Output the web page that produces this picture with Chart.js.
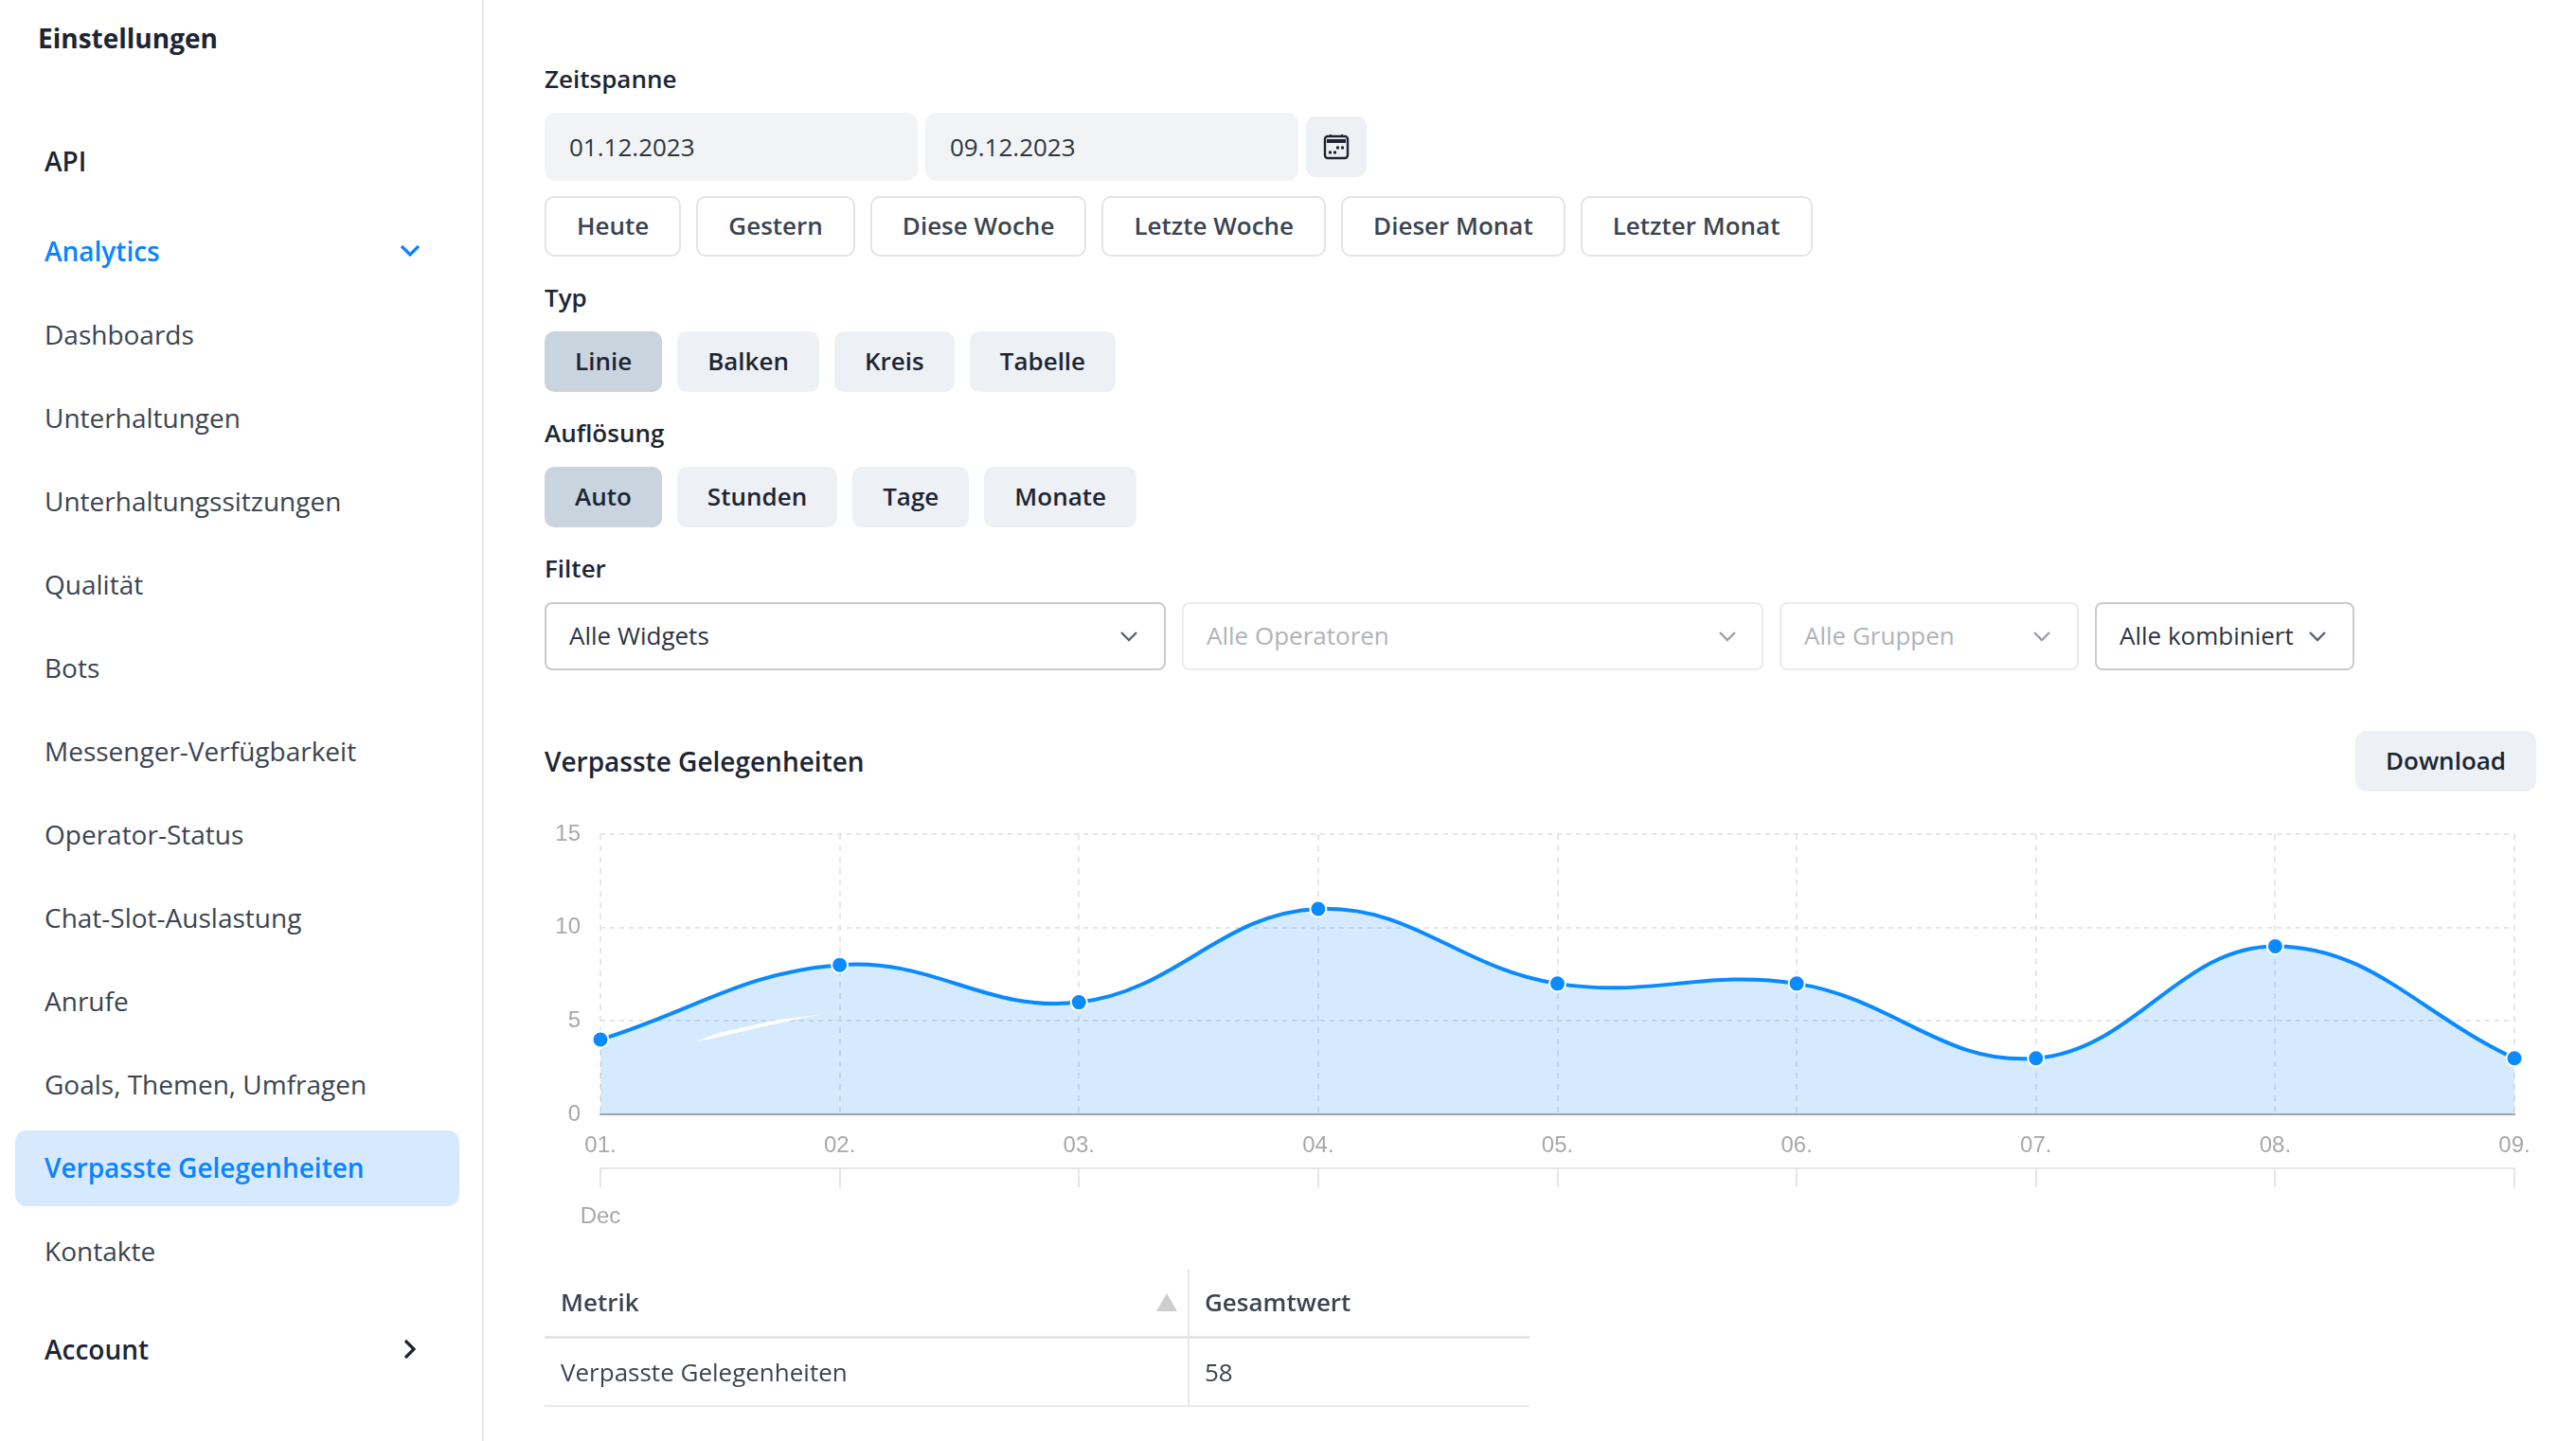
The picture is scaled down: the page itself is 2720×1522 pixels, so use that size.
<!DOCTYPE html>
<html lang="de">
<head>
<meta charset="utf-8">
<title>Verpasste Gelegenheiten</title>
<script src="https://cdn.jsdelivr.net/npm/chart.js@4"></script>
<style>
  html, body { margin: 0; padding: 0; background: #fff; }
  body { position: relative; width: 2720px; height: 1522px; overflow: hidden; font-family: "Open Sans", sans-serif; color: #1d2533; }
  .abs { position: absolute; white-space: nowrap; }
  .mid { transform: translateY(-50%); line-height: 1; }

  /* Seitenleiste */
  #sidebar { position: absolute; left: 0; top: 0; width: 509px; height: 1522px; border-right: 2px solid #e4e6e8; }
  #active-bg { position: absolute; left: 16px; top: 1194px; width: 469px; height: 80px; border-radius: 12px; background: #d6e9ff; }
  .nav { font-size: 28px; color: #3c4450; left: 47px; }
  .nav.head { color: #1d2533; font-weight: 600; }
  .nav.blue { color: #0a84ff; font-weight: 600; }
  .nav.sel { color: #0a84ff; font-weight: 600; }

  /* Formular */
  .label { left: 575px; font-size: 26px; font-weight: 600; color: #1d2533; }
  .row { position: absolute; left: 575px; display: flex; }
  .btn { box-sizing: border-box; display: flex; align-items: center; justify-content: center; font-size: 26px; font-weight: 600; border-radius: 10px; white-space: nowrap; padding-bottom: 2px !important; }
  .quick { gap: 16px; }
  .quick .btn { height: 64px; padding: 0 32px; border: 2px solid #e2e4e7; color: #3c4450; background: #fff; }
  .solid { gap: 16px; }
  .solid .btn { height: 64px; padding: 0 32px; background: #edf1f5; }
  .solid .btn.on { background: #cad4df; }
  .date { position: absolute; top: 119px; width: 394px; height: 72px; box-sizing: border-box; padding-left: 26px; border-radius: 12px; background: #f1f3f5; display: flex; align-items: center; font-size: 26px; color: #2d3440; }
  #cal { position: absolute; left: 1379px; top: 123px; width: 64px; height: 64px; border-radius: 10px; background: #edf1f5; display: flex; align-items: center; justify-content: center; }
  .select { position: absolute; top: 636px; height: 72px; box-sizing: border-box; padding-left: 24px; padding-bottom: 2px; border: 2px solid #c9cbd2; border-radius: 8px; display: flex; align-items: center; font-size: 26px; color: #2d3440; }
  .select.off { border-color: #ececee; color: #b0b3b8; }
  .select svg { position: absolute; top: 27px; }

  #download { position: absolute; left: 2487px; top: 772px; width: 191px; height: 64px; border-radius: 12px; background: #edf1f5; display: flex; align-items: center; justify-content: center; font-size: 26px; font-weight: 600; }
  #chart-box { position: absolute; left: 560px; top: 860px; width: 2160px; height: 461px; }
  #smudge { position: absolute; left: 0; top: 0; pointer-events: none; }

  /* Tabelle */
  .hline { position: absolute; left: 575px; width: 1040px; }
  .cell { font-size: 26px; color: #3c4450; }
</style>
</head>
<body>

<div id="sidebar"></div>
<div id="active-bg"></div>
<div class="abs mid" style="left:40px;top:40px;font-size:28px;font-weight:700;">Einstellungen</div>
<div id="nav"></div>
<svg class="abs" style="left:421px;top:257px" width="24" height="16" viewBox="0 0 24 16"><path d="M3 3l9 9 9-9" fill="none" stroke="#0a84ff" stroke-width="3.2"/></svg>
<svg class="abs" style="left:425px;top:1413px" width="16" height="24" viewBox="0 0 16 24"><path d="M3 3l9 9-9 9" fill="none" stroke="#1d2533" stroke-width="3.2"/></svg>

<div class="abs mid label" style="top:83px">Zeitspanne</div>
<div class="date" style="left:575px">01.12.2023</div>
<div class="date" style="left:977px">09.12.2023</div>
<div id="cal">
  <svg width="28" height="28" viewBox="0 0 28 28"><rect x="2" y="3" width="24" height="23" rx="3" fill="none" stroke="#1d2533" stroke-width="2.4"/><rect x="4" y="6" width="20" height="4" fill="#1d2533"/><path d="M8 1v2M20 1v2" stroke="#1d2533" stroke-width="2"/><path d="M6 20h3M11 20h3M14 15h3M19 15h3" stroke="#1d2533" stroke-width="2.8"/></svg>
</div>
<div id="quick" class="row quick" style="top:207px"></div>

<div class="abs mid label" style="top:313.5px">Typ</div>
<div id="types" class="row solid" style="top:350px"></div>

<div class="abs mid label" style="top:456.5px">Auflösung</div>
<div id="resolutions" class="row solid" style="top:493px"></div>

<div class="abs mid label" style="top:599.5px">Filter</div>
<div class="select" style="left:575px;width:656px">Alle Widgets<svg style="left:605px" width="20" height="14" viewBox="0 0 20 14"><path d="M2 3l8 8 8-8" fill="none" stroke="#5a6270" stroke-width="2.4"/></svg></div>
<div class="select off" style="left:1248px;width:614px">Alle Operatoren<svg style="left:564px" width="20" height="14" viewBox="0 0 20 14"><path d="M2 3l8 8 8-8" fill="none" stroke="#9a9fa7" stroke-width="2.4"/></svg></div>
<div class="select off" style="left:1879px;width:316px">Alle Gruppen<svg style="left:265px" width="20" height="14" viewBox="0 0 20 14"><path d="M2 3l8 8 8-8" fill="none" stroke="#9a9fa7" stroke-width="2.4"/></svg></div>
<div class="select" style="left:2212px;width:274px">Alle kombiniert<svg style="left:223px" width="20" height="14" viewBox="0 0 20 14"><path d="M2 3l8 8 8-8" fill="none" stroke="#5a6270" stroke-width="2.4"/></svg></div>

<div class="abs mid" style="left:575px;top:804px;font-size:28px;font-weight:600;">Verpasste Gelegenheiten</div>
<div id="download" style="padding-bottom:2px;box-sizing:border-box">Download</div>

<div id="chart-box"><canvas id="LineChart" width="2160" height="461"></canvas></div>
<!-- weisser Fleck in der Flaeche, ist im Original auch da -->
<svg id="smudge" width="2720" height="1522"><path d="M734.5 1100L760 1090.7 820.6 1077.3 870.4 1071 839.7 1076.7 747 1098Z" fill="#fff"/></svg>

<div class="abs mid cell" style="left:592px;top:1375px;font-weight:600">Metrik</div>
<div class="abs mid cell" style="left:1272px;top:1375px;font-weight:600">Gesamtwert</div>
<svg class="abs" style="left:1221px;top:1366px" width="22" height="19"><path d="M11 0L22 19H0Z" fill="#cdcfcf"/></svg>
<div class="hline" style="top:1411px;height:3px;background:#e3e4e5"></div>
<div class="abs" style="left:1254px;top:1340px;width:2px;height:145px;background:#e6e7e8"></div>
<div class="abs mid cell" id="metric-name" style="left:592px;top:1448.5px"></div>
<div class="abs mid cell" id="metric-total" style="left:1272px;top:1448.5px"></div>
<div class="hline" style="top:1484px;height:2px;background:#ebebec"></div>

<script>
// Daten
const days = ['01.', '02.', '03.', '04.', '05.', '06.', '07.', '08.', '09.'];
const missed = [4, 8, 6, 11, 7, 7, 3, 9, 3];
const yTicks = [0, 5, 10, 15];
const monthLabel = 'Dec';
const seriesName = 'Verpasste Gelegenheiten';
const total = 58;

const navItems = ['Dashboards', 'Unterhaltungen', 'Unterhaltungssitzungen', 'Qualität', 'Bots',
  'Messenger-Verfügbarkeit', 'Operator-Status', 'Chat-Slot-Auslastung', 'Anrufe',
  'Goals, Themen, Umfragen', 'Verpasste Gelegenheiten', 'Kontakte'];
const quickRanges = ['Heute', 'Gestern', 'Diese Woche', 'Letzte Woche', 'Dieser Monat', 'Letzter Monat'];
const chartTypes = ['Linie', 'Balken', 'Kreis', 'Tabelle'];
const resolutions = ['Auto', 'Stunden', 'Tage', 'Monate'];

const addNav = (text, top, cls) => {
    const el = document.createElement('div');
    el.className = 'abs mid nav ' + cls;
    el.style.top = top + 'px';
    el.textContent = text;
    document.getElementById('nav').appendChild(el);
};

const addButtons = (id, items) => {
    const row = document.getElementById(id);
    items.forEach((text, i) => {
        const el = document.createElement('div');
        el.className = 'btn' + (i === 0 && id !== 'quick' ? ' on' : '');
        el.textContent = text;
        row.appendChild(el);
    });
};

addNav('API', 169.5, 'head');
addNav('Analytics', 264.5, 'blue');
navItems.forEach((text, i) => {
    addNav(text, 353 + i * 88, text === seriesName ? 'sel' : '');
});
addNav('Account', 1425, 'head');

addButtons('quick', quickRanges);
addButtons('types', chartTypes);
addButtons('resolutions', resolutions);
document.getElementById('metric-name').textContent = seriesName;
document.getElementById('metric-total').textContent = total;

const line_chart = () => {
    const ctx = document.getElementById('LineChart');
    if (!ctx) return;

    new Chart(ctx, {
        type: 'line',
        data: {
            labels: days,
            datasets: [{
                label: seriesName,
                data: missed,
                borderColor: '#0a8aff',
                borderWidth: 4,
                backgroundColor: 'rgba(10, 132, 255, 0.17)',
                fill: 'origin',
                tension: 0.4,
                clip: false,
                pointRadius: 8.5,
                pointBorderWidth: 2,
                pointBackgroundColor: '#0a8aff',
                pointBorderColor: '#fff'
            }]
        },
        options: {
            responsive: false,
            animation: false,
            layout: { padding: { top: 21, right: 65, left: 0, bottom: 0 } },
            plugins: { legend: { display: false }, tooltip: { enabled: false } },
            scales: {
                y: {
                    min: 0,
                    max: 15,
                    afterBuildTicks: (scale) => { scale.ticks = yTicks.map(v => ({ value: v })); },
                    // sonst schiebt die Labelhoehe die Flaeche nach unten
                    afterFit: (scale) => { scale.width = 74; scale.paddingTop = 0; scale.paddingBottom = 0; },
                    border: { display: false, dash: [5, 5] },
                    grid: { color: '#e4e6ea', lineWidth: 2, drawTicks: false },
                    ticks: { color: '#a8a8a8', padding: 21, font: { family: 'Liberation Sans', size: 24 } }
                },
                x: {
                    afterFit: (scale) => { scale.height = 57; },
                    border: { color: '#a8a8a8', width: 2, dash: [6, 6] },
                    grid: { color: '#e4e6ea', lineWidth: 2, drawTicks: false },
                    ticks: { color: '#a8a8a8', padding: 18.5, maxRotation: 0, autoSkip: false, font: { family: 'Liberation Sans', size: 24 } }
                },
                // zweite Achsenebene mit Monat
                month: {
                    type: 'category',
                    axis: 'x',
                    position: 'bottom',
                    labels: days,
                    afterFit: (scale) => { scale.height = 87; },
                    border: { color: '#e6e6e6', width: 2 },
                    grid: { color: '#e6e6e6', lineWidth: 2, drawOnChartArea: false, tickLength: 20 },
                    ticks: {
                        color: '#a8a8a8',
                        padding: 17,
                        maxRotation: 0,
                        autoSkip: false,
                        font: { family: 'Liberation Sans', size: 24 },
                        callback: (value, i) => (i === 0 ? monthLabel : '')
                    }
                }
            }
        }
    });
};

document.addEventListener('DOMContentLoaded', () => {
    line_chart();
});
</script>
</body>
</html>
